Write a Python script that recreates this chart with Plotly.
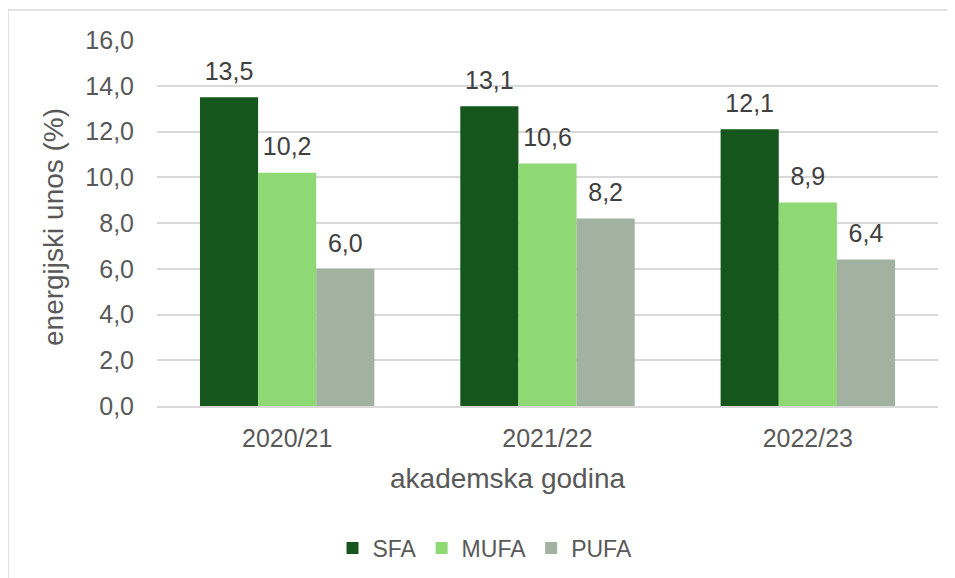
import plotly.graph_objects as go

categories = ["2020/21", "2021/22", "2022/23"]
sfa = [13.5, 13.1, 12.1]
mufa = [10.2, 10.6, 8.9]
pufa = [6.0, 8.2, 6.4]
series_names = ["SFA", "MUFA", "PUFA"]
colors = ["#15561D", "#8ED973", "#A1B2A1"]
y_ticks = [0, 2, 4, 6, 8, 10, 12, 14, 16]
y_tick_labels = ["0,0", "2,0", "4,0", "6,0", "8,0", "10,0", "12,0", "14,0", "16,0"]
x_title = "akademska godina"
y_title = "energijski unos (%)"

# page has an 8px body margin; figure sized so it ends at the window edge
W, H = 947, 570
L, R, T, B = 149, 17, 32, 172
font = "Liberation Sans, Arial, sans-serif"
gray = "#595959"
label_col = "#404040"

fig = go.Figure()
for name, vals, col in zip(series_names, [sfa, mufa, pufa], colors):
    fig.add_trace(go.Bar(
        x=categories, y=vals, name=name, offsetgroup=name,
        marker=dict(color=col, line=dict(width=0)),
    ))
for name, vals in zip(series_names, [sfa, mufa, pufa]):
    fig.add_trace(go.Scatter(
        x=categories, y=vals, offsetgroup=name, mode="text+markers",
        marker=dict(size=16, opacity=0),
        text=[f"{v:.1f}".replace(".", ",") for v in vals],
        textposition="top center", cliponaxis=False, showlegend=False, hoverinfo="skip",
        textfont=dict(family=font, size=25, color=label_col),
    ))

pw = W - L - R
ph = H - T - B


def px_x(x):  # figure pixel -> paper x
    return (x - L) / pw


def px_y(y):  # figure pixel -> paper y
    return (ph - (y - T)) / ph


fig.update_layout(
    width=W, height=H,
    margin=dict(l=L, r=R, t=T, b=B, autoexpand=False),
    paper_bgcolor="white", plot_bgcolor="white",
    barmode="group", scattermode="group", bargap=0.33, bargroupgap=0,
    font=dict(family=font, color=gray),
    showlegend=True,
    legend=dict(orientation="h", x=px_x(485 - 8), xanchor="center",
                y=px_y(540), yanchor="middle",
                font=dict(size=23, color=gray), itemwidth=30, traceorder="normal"),
    xaxis=dict(showgrid=False, showline=True, linecolor="#D9D9D9", linewidth=1.5,
               tickfont=dict(size=25, color=gray), ticks="", ticklabelstandoff=9),
    yaxis=dict(range=[0, 16], tickvals=y_ticks, ticktext=y_tick_labels,
               showgrid=True, gridcolor="#D9D9D9", gridwidth=1.5, zeroline=False,
               tickfont=dict(size=25, color=gray), ticks="", ticklabelstandoff=22),
    annotations=[
        dict(text=x_title, xref="paper", yref="paper", x=px_x(507 - 8), y=px_y(479 - 8),
             xanchor="center", yanchor="middle", showarrow=False,
             font=dict(size=28, color=gray, family=font)),
        dict(text=y_title, xref="paper", yref="paper", x=px_x(53 - 8), y=px_y(227 - 8),
             xanchor="center", yanchor="middle", showarrow=False, textangle=-90,
             font=dict(size=28, color=gray, family=font)),
    ],
    shapes=[dict(type="rect", xref="paper", yref="paper",
                 x0=px_x(0), x1=px_x(W + 10),
                 y0=px_y(H + 10), y1=px_y(2),
                 line=dict(color="#D9D9D9", width=1.5), fillcolor="rgba(0,0,0,0)", layer="below")],
)

fig.write_html("out.html")
